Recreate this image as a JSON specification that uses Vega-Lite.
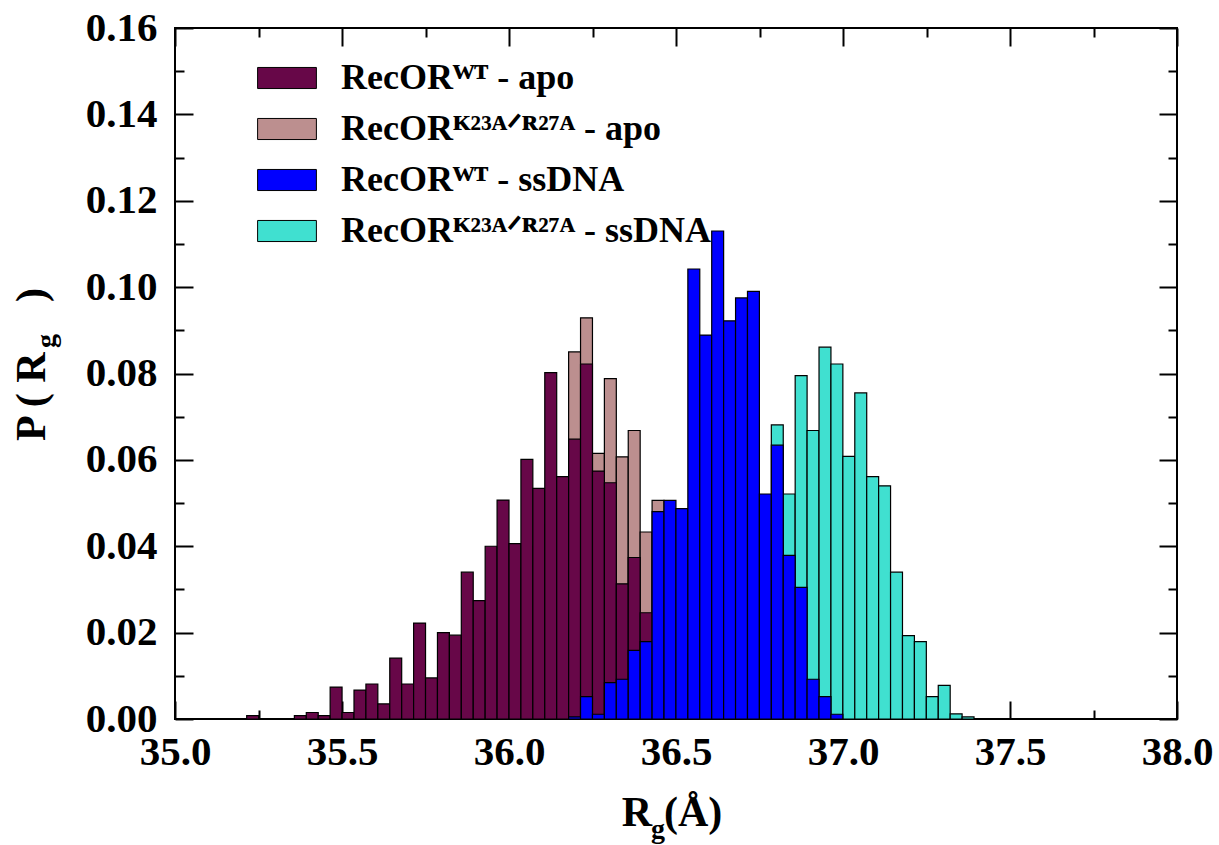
{
  "$schema": "https://vega.github.io/schema/vega-lite/v6.json",
  "width": 1002,
  "height": 691,
  "autosize": {"type": "none"},
  "padding": {"left": 175, "top": 28, "right": 42, "bottom": 126},
  "background": "white",
  "config": {
    "view": {"stroke": "black", "strokeWidth": 2},
    "axis": {
      "grid": false,
      "domain": false,
      "zindex": 1,
      "tickColor": "black",
      "tickWidth": 2,
      "labelFont": "Liberation Serif",
      "labelFontWeight": "bold",
      "labelFontSize": 41,
      "labelColor": "black",
      "labelFlush": false,
      "labelOverlap": false,
      "labelBound": false,
      "title": null
    }
  },
  "datasets": {
    "hist": [
      {"series": "RecORᴷ²³ᴬᐟᴿ²⁷ᴬ - ssDNA", "x0": 36.5355, "x1": 36.5712, "p": 0.001},
      {"series": "RecORᴷ²³ᴬᐟᴿ²⁷ᴬ - ssDNA", "x0": 36.5712, "x1": 36.6069, "p": 0.004},
      {"series": "RecORᴷ²³ᴬᐟᴿ²⁷ᴬ - ssDNA", "x0": 36.6069, "x1": 36.6426, "p": 0.008},
      {"series": "RecORᴷ²³ᴬᐟᴿ²⁷ᴬ - ssDNA", "x0": 36.6426, "x1": 36.6783, "p": 0.015},
      {"series": "RecORᴷ²³ᴬᐟᴿ²⁷ᴬ - ssDNA", "x0": 36.6783, "x1": 36.714, "p": 0.025},
      {"series": "RecORᴷ²³ᴬᐟᴿ²⁷ᴬ - ssDNA", "x0": 36.714, "x1": 36.7497, "p": 0.035},
      {"series": "RecORᴷ²³ᴬᐟᴿ²⁷ᴬ - ssDNA", "x0": 36.7497, "x1": 36.7854, "p": 0.045},
      {"series": "RecORᴷ²³ᴬᐟᴿ²⁷ᴬ - ssDNA", "x0": 36.7854, "x1": 36.8211, "p": 0.0681},
      {"series": "RecORᴷ²³ᴬᐟᴿ²⁷ᴬ - ssDNA", "x0": 36.8211, "x1": 36.8568, "p": 0.0521},
      {"series": "RecORᴷ²³ᴬᐟᴿ²⁷ᴬ - ssDNA", "x0": 36.8568, "x1": 36.8925, "p": 0.0795},
      {"series": "RecORᴷ²³ᴬᐟᴿ²⁷ᴬ - ssDNA", "x0": 36.8925, "x1": 36.9282, "p": 0.0668},
      {"series": "RecORᴷ²³ᴬᐟᴿ²⁷ᴬ - ssDNA", "x0": 36.9282, "x1": 36.9639, "p": 0.0861},
      {"series": "RecORᴷ²³ᴬᐟᴿ²⁷ᴬ - ssDNA", "x0": 36.9639, "x1": 36.9996, "p": 0.0822},
      {"series": "RecORᴷ²³ᴬᐟᴿ²⁷ᴬ - ssDNA", "x0": 36.9996, "x1": 37.0353, "p": 0.0608},
      {"series": "RecORᴷ²³ᴬᐟᴿ²⁷ᴬ - ssDNA", "x0": 37.0353, "x1": 37.071, "p": 0.0755},
      {"series": "RecORᴷ²³ᴬᐟᴿ²⁷ᴬ - ssDNA", "x0": 37.071, "x1": 37.1067, "p": 0.0561},
      {"series": "RecORᴷ²³ᴬᐟᴿ²⁷ᴬ - ssDNA", "x0": 37.1067, "x1": 37.1424, "p": 0.054},
      {"series": "RecORᴷ²³ᴬᐟᴿ²⁷ᴬ - ssDNA", "x0": 37.1424, "x1": 37.1781, "p": 0.034},
      {"series": "RecORᴷ²³ᴬᐟᴿ²⁷ᴬ - ssDNA", "x0": 37.1781, "x1": 37.2138, "p": 0.0193},
      {"series": "RecORᴷ²³ᴬᐟᴿ²⁷ᴬ - ssDNA", "x0": 37.2138, "x1": 37.2495, "p": 0.0179},
      {"series": "RecORᴷ²³ᴬᐟᴿ²⁷ᴬ - ssDNA", "x0": 37.2495, "x1": 37.2852, "p": 0.0052},
      {"series": "RecORᴷ²³ᴬᐟᴿ²⁷ᴬ - ssDNA", "x0": 37.2852, "x1": 37.3209, "p": 0.0078},
      {"series": "RecORᴷ²³ᴬᐟᴿ²⁷ᴬ - ssDNA", "x0": 37.3209, "x1": 37.3566, "p": 0.0012},
      {"series": "RecORᴷ²³ᴬᐟᴿ²⁷ᴬ - ssDNA", "x0": 37.3566, "x1": 37.3923, "p": 0.0005},

      {"series": "RecORᴷ²³ᴬᐟᴿ²⁷ᴬ - apo", "x0": 35.7858, "x1": 35.8215, "p": 0.003},
      {"series": "RecORᴷ²³ᴬᐟᴿ²⁷ᴬ - apo", "x0": 35.8215, "x1": 35.8572, "p": 0.006},
      {"series": "RecORᴷ²³ᴬᐟᴿ²⁷ᴬ - apo", "x0": 35.8572, "x1": 35.8929, "p": 0.01},
      {"series": "RecORᴷ²³ᴬᐟᴿ²⁷ᴬ - apo", "x0": 35.8929, "x1": 35.9286, "p": 0.015},
      {"series": "RecORᴷ²³ᴬᐟᴿ²⁷ᴬ - apo", "x0": 35.9286, "x1": 35.9643, "p": 0.02},
      {"series": "RecORᴷ²³ᴬᐟᴿ²⁷ᴬ - apo", "x0": 35.9643, "x1": 36.0, "p": 0.025},
      {"series": "RecORᴷ²³ᴬᐟᴿ²⁷ᴬ - apo", "x0": 36.0, "x1": 36.0357, "p": 0.03},
      {"series": "RecORᴷ²³ᴬᐟᴿ²⁷ᴬ - apo", "x0": 36.0357, "x1": 36.0714, "p": 0.035},
      {"series": "RecORᴷ²³ᴬᐟᴿ²⁷ᴬ - apo", "x0": 36.0714, "x1": 36.1071, "p": 0.04},
      {"series": "RecORᴷ²³ᴬᐟᴿ²⁷ᴬ - apo", "x0": 36.1071, "x1": 36.1428, "p": 0.045},
      {"series": "RecORᴷ²³ᴬᐟᴿ²⁷ᴬ - apo", "x0": 36.1428, "x1": 36.1785, "p": 0.05},
      {"series": "RecORᴷ²³ᴬᐟᴿ²⁷ᴬ - apo", "x0": 36.1785, "x1": 36.2142, "p": 0.085},
      {"series": "RecORᴷ²³ᴬᐟᴿ²⁷ᴬ - apo", "x0": 36.2142, "x1": 36.2499, "p": 0.0929},
      {"series": "RecORᴷ²³ᴬᐟᴿ²⁷ᴬ - apo", "x0": 36.2499, "x1": 36.2856, "p": 0.0615},
      {"series": "RecORᴷ²³ᴬᐟᴿ²⁷ᴬ - apo", "x0": 36.2856, "x1": 36.3213, "p": 0.0788},
      {"series": "RecORᴷ²³ᴬᐟᴿ²⁷ᴬ - apo", "x0": 36.3213, "x1": 36.357, "p": 0.0607},
      {"series": "RecORᴷ²³ᴬᐟᴿ²⁷ᴬ - apo", "x0": 36.357, "x1": 36.3927, "p": 0.0668},
      {"series": "RecORᴷ²³ᴬᐟᴿ²⁷ᴬ - apo", "x0": 36.3927, "x1": 36.4284, "p": 0.0433},
      {"series": "RecORᴷ²³ᴬᐟᴿ²⁷ᴬ - apo", "x0": 36.4284, "x1": 36.4641, "p": 0.0506},
      {"series": "RecORᴷ²³ᴬᐟᴿ²⁷ᴬ - apo", "x0": 36.4641, "x1": 36.4998, "p": 0.03},
      {"series": "RecORᴷ²³ᴬᐟᴿ²⁷ᴬ - apo", "x0": 36.4998, "x1": 36.5355, "p": 0.015},
      {"series": "RecORᴷ²³ᴬᐟᴿ²⁷ᴬ - apo", "x0": 36.5355, "x1": 36.5712, "p": 0.005},

      {"series": "RecORᵂᵀ - apo", "x0": 35.2146, "x1": 35.2503, "p": 0.0008},
      {"series": "RecORᵂᵀ - apo", "x0": 35.3574, "x1": 35.3931, "p": 0.0008},
      {"series": "RecORᵂᵀ - apo", "x0": 35.3931, "x1": 35.4288, "p": 0.0015},
      {"series": "RecORᵂᵀ - apo", "x0": 35.4288, "x1": 35.4645, "p": 0.0008},
      {"series": "RecORᵂᵀ - apo", "x0": 35.4645, "x1": 35.5002, "p": 0.0074},
      {"series": "RecORᵂᵀ - apo", "x0": 35.5002, "x1": 35.5359, "p": 0.0015},
      {"series": "RecORᵂᵀ - apo", "x0": 35.5359, "x1": 35.5716, "p": 0.0067},
      {"series": "RecORᵂᵀ - apo", "x0": 35.5716, "x1": 35.6073, "p": 0.0081},
      {"series": "RecORᵂᵀ - apo", "x0": 35.6073, "x1": 35.643, "p": 0.0035},
      {"series": "RecORᵂᵀ - apo", "x0": 35.643, "x1": 35.6787, "p": 0.0141},
      {"series": "RecORᵂᵀ - apo", "x0": 35.6787, "x1": 35.7144, "p": 0.0081},
      {"series": "RecORᵂᵀ - apo", "x0": 35.7144, "x1": 35.7501, "p": 0.0222},
      {"series": "RecORᵂᵀ - apo", "x0": 35.7501, "x1": 35.7858, "p": 0.0095},
      {"series": "RecORᵂᵀ - apo", "x0": 35.7858, "x1": 35.8215, "p": 0.02},
      {"series": "RecORᵂᵀ - apo", "x0": 35.8215, "x1": 35.8572, "p": 0.0194},
      {"series": "RecORᵂᵀ - apo", "x0": 35.8572, "x1": 35.8929, "p": 0.034},
      {"series": "RecORᵂᵀ - apo", "x0": 35.8929, "x1": 35.9286, "p": 0.0274},
      {"series": "RecORᵂᵀ - apo", "x0": 35.9286, "x1": 35.9643, "p": 0.04},
      {"series": "RecORᵂᵀ - apo", "x0": 35.9643, "x1": 36.0, "p": 0.0507},
      {"series": "RecORᵂᵀ - apo", "x0": 36.0, "x1": 36.0357, "p": 0.0406},
      {"series": "RecORᵂᵀ - apo", "x0": 36.0357, "x1": 36.0714, "p": 0.0601},
      {"series": "RecORᵂᵀ - apo", "x0": 36.0714, "x1": 36.1071, "p": 0.0534},
      {"series": "RecORᵂᵀ - apo", "x0": 36.1071, "x1": 36.1428, "p": 0.0802},
      {"series": "RecORᵂᵀ - apo", "x0": 36.1428, "x1": 36.1785, "p": 0.0561},
      {"series": "RecORᵂᵀ - apo", "x0": 36.1785, "x1": 36.2142, "p": 0.0648},
      {"series": "RecORᵂᵀ - apo", "x0": 36.2142, "x1": 36.2499, "p": 0.0822},
      {"series": "RecORᵂᵀ - apo", "x0": 36.2499, "x1": 36.2856, "p": 0.0574},
      {"series": "RecORᵂᵀ - apo", "x0": 36.2856, "x1": 36.3213, "p": 0.0547},
      {"series": "RecORᵂᵀ - apo", "x0": 36.3213, "x1": 36.357, "p": 0.0313},
      {"series": "RecORᵂᵀ - apo", "x0": 36.357, "x1": 36.3927, "p": 0.0374},
      {"series": "RecORᵂᵀ - apo", "x0": 36.3927, "x1": 36.4284, "p": 0.0246},
      {"series": "RecORᵂᵀ - apo", "x0": 36.4284, "x1": 36.4641, "p": 0.012},
      {"series": "RecORᵂᵀ - apo", "x0": 36.4641, "x1": 36.4998, "p": 0.005},

      {"series": "RecORᵂᵀ - ssDNA", "x0": 36.1785, "x1": 36.2142, "p": 0.0005},
      {"series": "RecORᵂᵀ - ssDNA", "x0": 36.2142, "x1": 36.2499, "p": 0.0052},
      {"series": "RecORᵂᵀ - ssDNA", "x0": 36.2499, "x1": 36.2856, "p": 0.0011},
      {"series": "RecORᵂᵀ - ssDNA", "x0": 36.2856, "x1": 36.3213, "p": 0.0084},
      {"series": "RecORᵂᵀ - ssDNA", "x0": 36.3213, "x1": 36.357, "p": 0.0092},
      {"series": "RecORᵂᵀ - ssDNA", "x0": 36.357, "x1": 36.3927, "p": 0.0159},
      {"series": "RecORᵂᵀ - ssDNA", "x0": 36.3927, "x1": 36.4284, "p": 0.0179},
      {"series": "RecORᵂᵀ - ssDNA", "x0": 36.4284, "x1": 36.4641, "p": 0.048},
      {"series": "RecORᵂᵀ - ssDNA", "x0": 36.4641, "x1": 36.4998, "p": 0.0506},
      {"series": "RecORᵂᵀ - ssDNA", "x0": 36.4998, "x1": 36.5355, "p": 0.0487},
      {"series": "RecORᵂᵀ - ssDNA", "x0": 36.5355, "x1": 36.5712, "p": 0.1042},
      {"series": "RecORᵂᵀ - ssDNA", "x0": 36.5712, "x1": 36.6069, "p": 0.0889},
      {"series": "RecORᵂᵀ - ssDNA", "x0": 36.6069, "x1": 36.6426, "p": 0.113},
      {"series": "RecORᵂᵀ - ssDNA", "x0": 36.6426, "x1": 36.6783, "p": 0.0922},
      {"series": "RecORᵂᵀ - ssDNA", "x0": 36.6783, "x1": 36.714, "p": 0.0975},
      {"series": "RecORᵂᵀ - ssDNA", "x0": 36.714, "x1": 36.7497, "p": 0.099},
      {"series": "RecORᵂᵀ - ssDNA", "x0": 36.7497, "x1": 36.7854, "p": 0.0521},
      {"series": "RecORᵂᵀ - ssDNA", "x0": 36.7854, "x1": 36.8211, "p": 0.0634},
      {"series": "RecORᵂᵀ - ssDNA", "x0": 36.8211, "x1": 36.8568, "p": 0.0379},
      {"series": "RecORᵂᵀ - ssDNA", "x0": 36.8568, "x1": 36.8925, "p": 0.0305},
      {"series": "RecORᵂᵀ - ssDNA", "x0": 36.8925, "x1": 36.9282, "p": 0.0092},
      {"series": "RecORᵂᵀ - ssDNA", "x0": 36.9282, "x1": 36.9639, "p": 0.0052},
      {"series": "RecORᵂᵀ - ssDNA", "x0": 36.9639, "x1": 36.9996, "p": 0.0011}
    ]
  },
  "layer": [
    {
      "data": {"name": "hist"},
      "mark": {"type": "bar", "stroke": "black", "strokeWidth": 1.2},
      "encoding": {
        "x": {"field": "x0", "type": "quantitative", "scale": {"domain": [35, 38], "nice": false, "zero": false},
              "axis": {"orient": "bottom", "values": [35, 35.5, 36, 36.5, 37, 37.5, 38], "format": ".1f", "tickSize": -18, "labelPadding": 31}},
        "x2": {"field": "x1"},
        "y": {"field": "p", "type": "quantitative", "stack": null, "scale": {"domain": [0, 0.16], "nice": false, "zero": false},
              "axis": {"orient": "left", "values": [0, 0.02, 0.04, 0.06, 0.08, 0.1, 0.12, 0.14, 0.16], "format": ".2f", "tickSize": -18, "labelPadding": 36}},
        "y2": {"datum": 0},
        "fill": {"field": "series", "type": "nominal",
                 "scale": {"domain": ["RecORᵂᵀ - apo", "RecORᴷ²³ᴬᐟᴿ²⁷ᴬ - apo", "RecORᵂᵀ - ssDNA", "RecORᴷ²³ᴬᐟᴿ²⁷ᴬ - ssDNA"],
                           "range": ["#670748", "#BC8F8F", "#0000FF", "#40E0D0"]},
                 "legend": {"orient": "none", "legendX": 87, "legendY": 25, "title": null,
                            "symbolType": "M-1.2,-0.43L1.2,-0.43L1.2,0.43L-1.2,0.43Z", "symbolSize": 2401,
                            "symbolStrokeColor": "black", "symbolStrokeWidth": 1, "symbolOpacity": 1,
                            "labelFont": "Liberation Serif", "labelFontWeight": "bold", "labelFontSize": 36,
                            "labelColor": "black", "labelOffset": 29, "rowPadding": 8, "labelLimit": 0, "padding": 0}}
      }
    },
    {
      "data": {"name": "hist"},
      "mark": {"type": "point", "opacity": 0},
      "encoding": {
        "x": {"field": "x0", "type": "quantitative", "scale": {"domain": [35, 38], "nice": false, "zero": false},
              "axis": {"orient": "bottom", "values": [35.25, 35.75, 36.25, 36.75, 37.25, 37.75], "labels": false, "tickSize": -9}},
        "y": {"field": "p", "type": "quantitative", "scale": {"domain": [0, 0.16], "nice": false, "zero": false},
              "axis": {"orient": "left", "values": [0.01, 0.03, 0.05, 0.07, 0.09, 0.11, 0.13, 0.15], "labels": false, "tickSize": -9}}
      }
    },
    {
      "data": {"name": "hist"},
      "mark": {"type": "point", "opacity": 0},
      "encoding": {
        "x": {"field": "x0", "type": "quantitative", "scale": {"domain": [35, 38], "nice": false, "zero": false},
              "axis": {"orient": "top", "values": [35, 35.5, 36, 36.5, 37, 37.5, 38], "labels": false, "tickSize": -18}},
        "y": {"field": "p", "type": "quantitative", "scale": {"domain": [0, 0.16], "nice": false, "zero": false},
              "axis": {"orient": "right", "values": [0, 0.02, 0.04, 0.06, 0.08, 0.1, 0.12, 0.14, 0.16], "labels": false, "tickSize": -18}}
      }
    },
    {
      "data": {"name": "hist"},
      "mark": {"type": "point", "opacity": 0},
      "encoding": {
        "x": {"field": "x0", "type": "quantitative", "scale": {"domain": [35, 38], "nice": false, "zero": false},
              "axis": {"orient": "top", "values": [35.25, 35.75, 36.25, 36.75, 37.25, 37.75], "labels": false, "tickSize": -9}},
        "y": {"field": "p", "type": "quantitative", "scale": {"domain": [0, 0.16], "nice": false, "zero": false},
              "axis": {"orient": "right", "values": [0.01, 0.03, 0.05, 0.07, 0.09, 0.11, 0.13, 0.15], "labels": false, "tickSize": -9}}
      }
    },
    {
      "data": {"values": [{}]},
      "mark": {"type": "text", "text": "R", "font": "Liberation Serif", "fontWeight": "bold", "fontSize": 42, "align": "right", "baseline": "alphabetic", "color": "black"},
      "encoding": {
        "x": {"datum": 36.4281, "type": "quantitative", "scale": {"domain": [35, 38], "nice": false, "zero": false}, "axis": null},
        "y": {"datum": -0.02477, "type": "quantitative", "scale": {"domain": [0, 0.16], "nice": false, "zero": false}, "axis": null}
      }
    },
    {
      "data": {"values": [{}]},
      "mark": {"type": "text", "text": "g", "font": "Liberation Serif", "fontWeight": "bold", "fontSize": 28, "align": "left", "baseline": "alphabetic", "color": "black"},
      "encoding": {
        "x": {"datum": 36.4251, "type": "quantitative", "scale": {"domain": [35, 38], "nice": false, "zero": false}, "axis": null},
        "y": {"datum": -0.02755, "type": "quantitative", "scale": {"domain": [0, 0.16], "nice": false, "zero": false}, "axis": null}
      }
    },
    {
      "data": {"values": [{}]},
      "mark": {"type": "text", "text": "(Å)", "font": "Liberation Serif", "fontWeight": "bold", "fontSize": 42, "align": "left", "baseline": "alphabetic", "color": "black"},
      "encoding": {
        "x": {"datum": 36.4641, "type": "quantitative", "scale": {"domain": [35, 38], "nice": false, "zero": false}, "axis": null},
        "y": {"datum": -0.02477, "type": "quantitative", "scale": {"domain": [0, 0.16], "nice": false, "zero": false}, "axis": null}
      }
    },
    {
      "data": {"values": [{}]},
      "mark": {"type": "text", "text": "P ( R", "font": "Liberation Serif", "fontWeight": "bold", "fontSize": 42, "align": "left", "baseline": "alphabetic", "angle": 270, "color": "black"},
      "encoding": {
        "x": {"datum": 34.6108, "type": "quantitative", "scale": {"domain": [35, 38], "nice": false, "zero": false}, "axis": null},
        "y": {"datum": 0.06437, "type": "quantitative", "scale": {"domain": [0, 0.16], "nice": false, "zero": false}, "axis": null}
      }
    },
    {
      "data": {"values": [{}]},
      "mark": {"type": "text", "text": "g", "font": "Liberation Serif", "fontWeight": "bold", "fontSize": 28, "align": "left", "baseline": "alphabetic", "angle": 270, "color": "black"},
      "encoding": {
        "x": {"datum": 34.6407, "type": "quantitative", "scale": {"domain": [35, 38], "nice": false, "zero": false}, "axis": null},
        "y": {"datum": 0.0859, "type": "quantitative", "scale": {"domain": [0, 0.16], "nice": false, "zero": false}, "axis": null}
      }
    },
    {
      "data": {"values": [{}]},
      "mark": {"type": "text", "text": ")", "font": "Liberation Serif", "fontWeight": "bold", "fontSize": 42, "align": "left", "baseline": "alphabetic", "angle": 270, "color": "black"},
      "encoding": {
        "x": {"datum": 34.6108, "type": "quantitative", "scale": {"domain": [35, 38], "nice": false, "zero": false}, "axis": null},
        "y": {"datum": 0.09655, "type": "quantitative", "scale": {"domain": [0, 0.16], "nice": false, "zero": false}, "axis": null}
      }
    }
  ],
  "resolve": {"axis": {"x": "independent", "y": "independent"}}
}
